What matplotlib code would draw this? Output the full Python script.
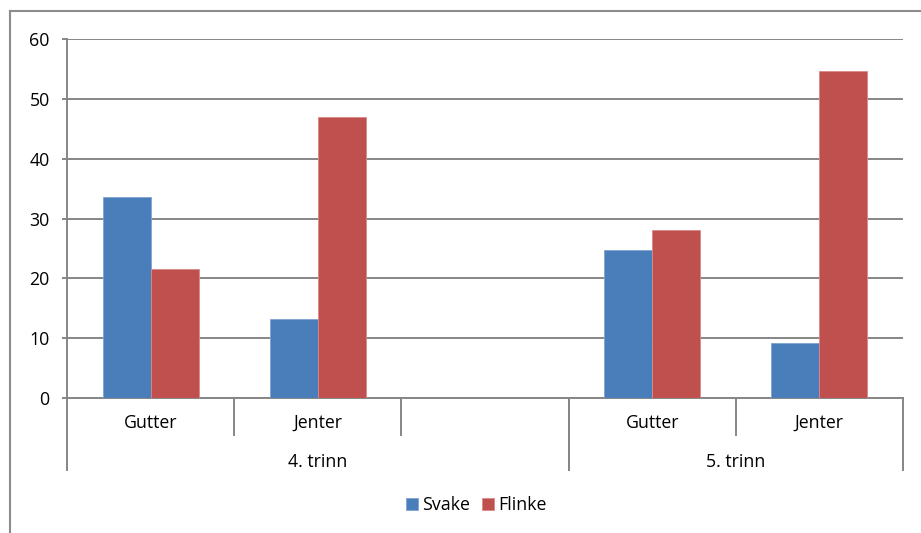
import matplotlib
matplotlib.use("Agg")
import matplotlib.pyplot as plt
from matplotlib.lines import Line2D
import numpy as np

# data
categories = ["Gutter", "Jenter", "", "Gutter", "Jenter"]
groups = ["4. trinn", "5. trinn"]
group_spans = [(0, 3), (3, 5)]   # category index ranges per group
svake = [33.6, 13.2, np.nan, 24.7, 9.2]
flinke = [21.6, 47.0, np.nan, 28.1, 54.7]

blue = "#4A7EBB"
red = "#C0504D"
grey = "#868686"

plt.rcParams["font.family"] = ["Open Sans", "DejaVu Sans"]
fs = 12.8

W, H = 921, 533
fig = plt.figure(figsize=(W / 100, H / 100), dpi=100)
ax = fig.add_axes([67 / W, (H - 398) / H, 836 / W, 359 / H])

x = np.arange(len(categories)) + 0.5
bw = 0.287
ax.bar(x - bw / 2, svake, bw, color=blue, edgecolor="#7EA3D3", linewidth=0.6, label="Svake", zorder=3)
ax.bar(x + bw / 2, flinke, bw, color=red, edgecolor="#D98A88", linewidth=0.6, label="Flinke", zorder=3)

ax.set_xlim(0, len(categories))
ax.set_ylim(0, 60)
ax.set_yticks(range(0, 61, 10))
ax.yaxis.grid(True, color=grey, linewidth=1.4, zorder=0)
ax.set_xticks([])
for s in ["top", "right"]:
    ax.spines[s].set_visible(False)
ax.spines["left"].set_color(grey)
ax.spines["bottom"].set_color(grey)
ax.spines["left"].set_linewidth(1.4)
ax.spines["bottom"].set_linewidth(1.4)
ax.tick_params(axis="y", length=3.5, width=1.4, color=grey, pad=9, labelsize=fs)

# multi-level category axis
trans = ax.get_xaxis_transform()
ax_h = 359
for i, lab in enumerate(categories):
    ax.text(x[i], -25 / ax_h, lab, transform=trans, ha="center", va="center", fontsize=fs)
for b in range(1, len(categories)):
    ax.plot([b, b], [0, -37 / ax_h], transform=trans, color=grey, lw=1.4, clip_on=False)
for (a, b), g in zip(group_spans, groups):
    ax.text((a + b) / 2, -64 / ax_h, g, transform=trans, ha="center", va="center", fontsize=fs)
    for e in (a, b):
        ax.plot([e, e], [0, -72 / ax_h], transform=trans, color=grey, lw=1.4, clip_on=False)

fig.legend(loc="center", bbox_to_anchor=(476 / W, 1 - 505 / H), ncol=2, frameon=False,
           handlelength=0.7, handleheight=0.7, handletextpad=0.2, columnspacing=0.7,
           fontsize=fs)

# outer chart frame (cut off on right and bottom)
fig.add_artist(Line2D([9.5 / W, 1.0], [1 - 10.5 / H, 1 - 10.5 / H], color="#8C8C8C", lw=1.5))
fig.add_artist(Line2D([9.5 / W, 9.5 / W], [0, 1 - 10.5 / H], color="#8C8C8C", lw=1.5))

fig.savefig("out.png", dpi=100)
